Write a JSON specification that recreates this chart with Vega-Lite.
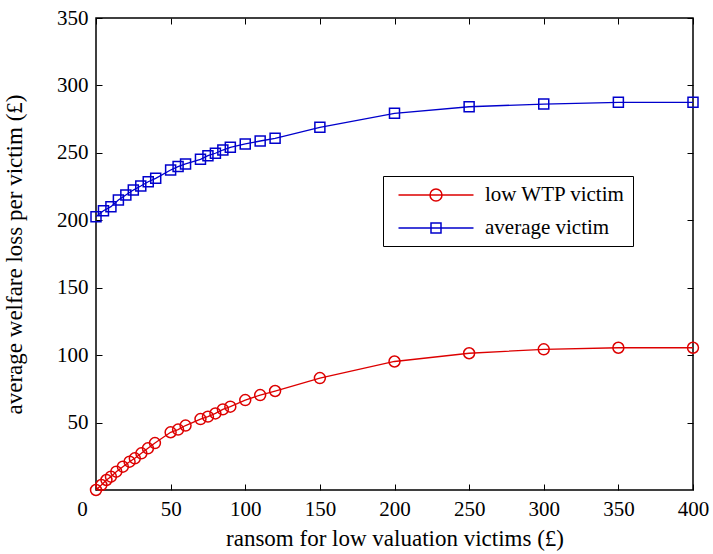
{
  "$schema": "https://vega.github.io/schema/vega-lite/v6.json",
  "width": 597,
  "height": 472,
  "autosize": {"type": "none"},
  "padding": {"left": 96, "top": 18, "right": 20, "bottom": 64},
  "background": "white",
  "config": {
    "view": {"stroke": "black", "strokeWidth": 1.5},
    "font": "Liberation Serif, Times New Roman, serif",
    "axis": {
      "grid": false,
      "domain": false,
      "tickColor": "black",
      "tickSize": -6,
      "tickWidth": 1,
      "labelFont": "Liberation Serif, Times New Roman, serif",
      "labelFontSize": 21,
      "labelColor": "black",
      "labelPadding": 14,
      "labelFlush": false,
      "titleFont": "Liberation Serif, Times New Roman, serif",
      "titleFontSize": 23,
      "titleFontWeight": "normal",
      "titleColor": "black"
    },
    "legend": {
      "labelFont": "Liberation Serif, Times New Roman, serif",
      "labelFontSize": 21,
      "labelColor": "black"
    }
  },
  "data": {
    "values": [
      {"series": "low WTP victim", "ransom": 0, "loss": 0},
      {"series": "low WTP victim", "ransom": 3.6, "loss": 3.7},
      {"series": "low WTP victim", "ransom": 7, "loss": 7.4},
      {"series": "low WTP victim", "ransom": 10, "loss": 9.9},
      {"series": "low WTP victim", "ransom": 13.6, "loss": 13.6},
      {"series": "low WTP victim", "ransom": 18, "loss": 17.3},
      {"series": "low WTP victim", "ransom": 22.5, "loss": 21},
      {"series": "low WTP victim", "ransom": 26, "loss": 23.5},
      {"series": "low WTP victim", "ransom": 30.4, "loss": 27.2},
      {"series": "low WTP victim", "ransom": 34.8, "loss": 30.9},
      {"series": "low WTP victim", "ransom": 39.5, "loss": 34.8},
      {"series": "low WTP victim", "ransom": 50, "loss": 42.8},
      {"series": "low WTP victim", "ransom": 55, "loss": 44.8},
      {"series": "low WTP victim", "ransom": 60, "loss": 47.8},
      {"series": "low WTP victim", "ransom": 70, "loss": 52.6},
      {"series": "low WTP victim", "ransom": 75, "loss": 54.4},
      {"series": "low WTP victim", "ransom": 80, "loss": 56.8},
      {"series": "low WTP victim", "ransom": 85, "loss": 59.8},
      {"series": "low WTP victim", "ransom": 90, "loss": 61.8},
      {"series": "low WTP victim", "ransom": 100, "loss": 66.7},
      {"series": "low WTP victim", "ransom": 110, "loss": 70.4},
      {"series": "low WTP victim", "ransom": 120, "loss": 73.4},
      {"series": "low WTP victim", "ransom": 150, "loss": 83},
      {"series": "low WTP victim", "ransom": 200, "loss": 95.3},
      {"series": "low WTP victim", "ransom": 250, "loss": 101.4},
      {"series": "low WTP victim", "ransom": 300, "loss": 104.3},
      {"series": "low WTP victim", "ransom": 350, "loss": 105.5},
      {"series": "low WTP victim", "ransom": 400, "loss": 105.5},
      {"series": "average victim", "ransom": 0, "loss": 202.7},
      {"series": "average victim", "ransom": 5, "loss": 207.1},
      {"series": "average victim", "ransom": 10, "loss": 210.1},
      {"series": "average victim", "ransom": 15, "loss": 215},
      {"series": "average victim", "ransom": 20, "loss": 218.7},
      {"series": "average victim", "ransom": 25, "loss": 222.4},
      {"series": "average victim", "ransom": 30, "loss": 225.4},
      {"series": "average victim", "ransom": 35, "loss": 228.6},
      {"series": "average victim", "ransom": 40, "loss": 231.1},
      {"series": "average victim", "ransom": 50, "loss": 237.3},
      {"series": "average victim", "ransom": 55, "loss": 239.8},
      {"series": "average victim", "ransom": 60, "loss": 241.8},
      {"series": "average victim", "ransom": 70, "loss": 245.2},
      {"series": "average victim", "ransom": 75, "loss": 247.9},
      {"series": "average victim", "ransom": 80, "loss": 249.7},
      {"series": "average victim", "ransom": 85, "loss": 252.1},
      {"series": "average victim", "ransom": 90, "loss": 254.1},
      {"series": "average victim", "ransom": 100, "loss": 256.6},
      {"series": "average victim", "ransom": 110, "loss": 258.8},
      {"series": "average victim", "ransom": 120, "loss": 260.8},
      {"series": "average victim", "ransom": 150, "loss": 268.9},
      {"series": "average victim", "ransom": 200, "loss": 279.3},
      {"series": "average victim", "ransom": 250, "loss": 284.2},
      {"series": "average victim", "ransom": 300, "loss": 286.2},
      {"series": "average victim", "ransom": 350, "loss": 287.5},
      {"series": "average victim", "ransom": 400, "loss": 287.5}
    ]
  },
  "layer": [
    {
      "mark": {"type": "line", "strokeWidth": 1.3},
      "encoding": {
        "x": {
          "field": "ransom",
          "type": "quantitative",
          "scale": {"domain": [0, 400], "nice": false, "zero": false},
          "axis": {
            "orient": "bottom",
            "values": [0, 50, 100, 150, 200, 250, 300, 350, 400],
            "title": "ransom for low valuation victims (£)",
            "titlePadding": 8,
            "labelOffset": {"condition": {"test": "datum.value === 0", "value": -14}, "value": 0}
          }
        },
        "y": {
          "field": "loss",
          "type": "quantitative",
          "scale": {"domain": [0, 350], "nice": false},
          "axis": {
            "orient": "left",
            "values": [50, 100, 150, 200, 250, 300, 350],
            "title": "average welfare loss per victim (£)",
            "titlePadding": 30
          }
        },
        "color": {
          "field": "series",
          "type": "nominal",
          "sort": null,
          "scale": {"domain": ["low WTP victim", "average victim"], "range": ["#dd0000", "#0000cc"]},
          "legend": {
            "title": null,
            "orient": "none",
            "legendX": 287,
            "legendY": 158,
            "fillColor": "white",
            "strokeColor": "black",
            "padding": 8,
            "cornerRadius": 0,
            "symbolSize": 400,
            "symbolStrokeWidth": 1.5,
            "symbolOffset": 34,
            "labelOffset": 38,
            "rowPadding": 12,
            "encode": {
              "symbols": {
                "update": {
                  "shape": {"signal": "datum.value === 'low WTP victim' ? 'M-3.75,0L3.75,0M-0.6,0A0.6,0.6,0,1,0,0.6,0A0.6,0.6,0,1,0,-0.6,0Z' : 'M-3.75,0L3.75,0M-0.5,-0.5L0.5,-0.5L0.5,0.5L-0.5,0.5Z'"},
                  "size": {"value": 400},
                  "fill": {"value": "transparent"},
                  "strokeWidth": {"value": 1.5},
                  "opacity": {"value": 1}
                }
              }
            }
          }
        }
      }
    },
    {
      "transform": [{"filter": "datum.series === 'low WTP victim'"}],
      "mark": {"type": "point", "shape": "circle", "size": 120, "filled": false, "strokeWidth": 1.5, "opacity": 1},
      "encoding": {
        "x": {
          "field": "ransom",
          "type": "quantitative",
          "scale": {"domain": [0, 400], "nice": false, "zero": false},
          "axis": {"orient": "top", "labels": false, "title": null, "values": [0, 50, 100, 150, 200, 250, 300, 350, 400]}
        },
        "y": {
          "field": "loss",
          "type": "quantitative",
          "scale": {"domain": [0, 350], "nice": false},
          "axis": {"orient": "right", "labels": false, "title": null, "values": [50, 100, 150, 200, 250, 300, 350]}
        },
        "color": {"field": "series", "type": "nominal", "sort": null}
      }
    },
    {
      "transform": [{"filter": "datum.series === 'average victim'"}],
      "mark": {"type": "point", "shape": "square", "size": 100, "filled": false, "strokeWidth": 1.5, "opacity": 1},
      "encoding": {
        "x": {"field": "ransom", "type": "quantitative", "axis": null},
        "y": {"field": "loss", "type": "quantitative", "axis": null},
        "color": {"field": "series", "type": "nominal", "sort": null}
      }
    }
  ],
  "resolve": {"axis": {"x": "independent", "y": "independent"}}
}
